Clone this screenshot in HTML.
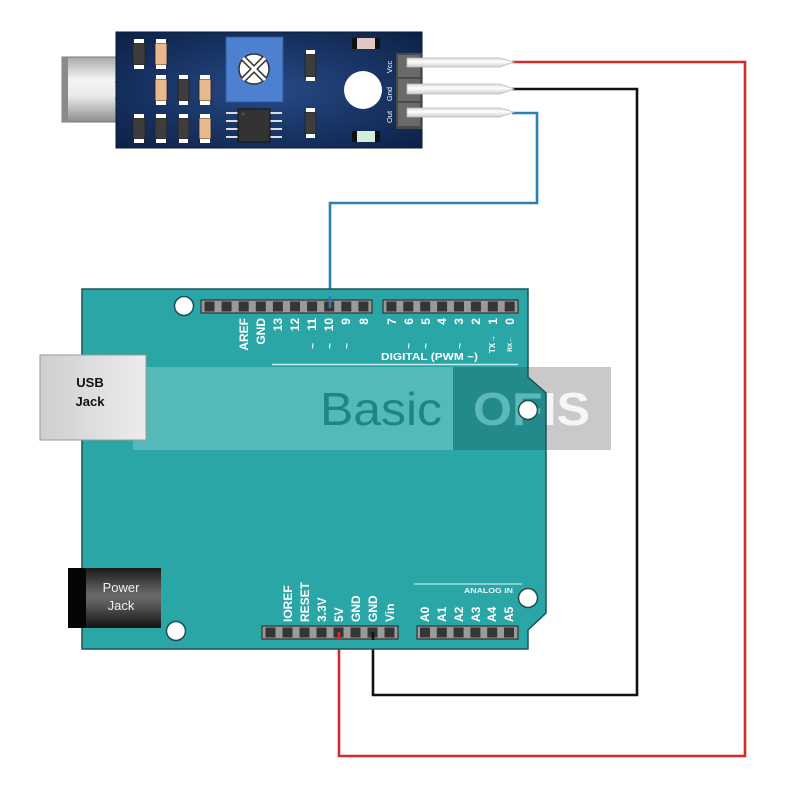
<!DOCTYPE html>
<html><head><meta charset="utf-8"><style>
html,body{margin:0;padding:0;background:#fff;}
svg{display:block;font-family:"Liberation Sans",Arial,sans-serif;}
.lb{fill:#fff;font-weight:bold;font-size:12px;}
</style></head><body>
<svg width="800" height="800" viewBox="0 0 800 800" xmlns="http://www.w3.org/2000/svg">
<defs>
<clipPath id="bc"><path d="M82,289 H528 V377 L546,393 V613 L528,630 V649 H82 Z"/></clipPath>
<clipPath id="nbc"><path d="M0,0 H800 V800 H0 Z M82,289 V649 H528 V630 L546,613 V393 L528,377 V289 Z" clip-rule="evenodd"/></clipPath>
<radialGradient id="nav" cx="0.5" cy="0.5" r="0.7">
<stop offset="0" stop-color="#274a86"/><stop offset="1" stop-color="#0c2147"/></radialGradient>
<linearGradient id="mic" x1="0" y1="0" x2="0" y2="1">
<stop offset="0" stop-color="#a9a9a9"/><stop offset="0.35" stop-color="#f4f4f4"/><stop offset="0.6" stop-color="#eaeaea"/><stop offset="1" stop-color="#8d8d8d"/></linearGradient>
<linearGradient id="pj" x1="0" y1="0" x2="0" y2="1">
<stop offset="0" stop-color="#1a1a1a"/><stop offset="0.45" stop-color="#6a6a6a"/><stop offset="0.6" stop-color="#5a5a5a"/><stop offset="1" stop-color="#111"/></linearGradient>
<linearGradient id="usb" x1="0" y1="0" x2="1" y2="0">
<stop offset="0" stop-color="#cfcfcf"/><stop offset="1" stop-color="#ececec"/></linearGradient>
<linearGradient id="pin" x1="0" y1="0" x2="0" y2="1">
<stop offset="0" stop-color="#d8d8d8"/><stop offset="0.4" stop-color="#ffffff"/><stop offset="1" stop-color="#cfcfcf"/></linearGradient>
</defs>

<!-- wires -->
<g fill="none" stroke-width="2.6" stroke-linejoin="miter">
<polyline points="512,62 745,62 745,756 339,756 339,634" stroke="#d42a2a"/>
<polyline points="512,89 637,89 637,695 373,695 373,634" stroke="#111"/>
<polyline points="512,113 537,113 537,203 330,203 330,306" stroke="#2a80b2"/>
</g>

<!-- sensor module -->
<rect x="62" y="57" width="55" height="65" fill="url(#mic)" stroke="#777" stroke-width="1"/>
<rect x="62" y="57" width="6" height="65" fill="#8a8a8a"/>
<line x1="115" y1="82" x2="128" y2="82" stroke="#aaa" stroke-width="2"/>
<line x1="115" y1="99" x2="128" y2="99" stroke="#aaa" stroke-width="2"/>
<rect x="116" y="32" width="306" height="116" fill="url(#nav)" stroke="#0a1a38" stroke-width="1"/>
<!-- pot -->
<rect x="226" y="37" width="57" height="65" fill="#4d80cf" stroke="#2b5aa0" stroke-width="1"/>
<circle cx="254" cy="69" r="15" fill="#fff" stroke="#333" stroke-width="1.5"/>
<g stroke="#333" stroke-width="6"><line x1="244" y1="59" x2="264" y2="79"/><line x1="264" y1="59" x2="244" y2="79"/></g>
<g stroke="#fff" stroke-width="3"><line x1="243" y1="58" x2="265" y2="80"/><line x1="265" y1="58" x2="243" y2="80"/></g>
<!-- chips -->
<g stroke="#222" stroke-width="0.8">
<rect x="133" y="43" width="12" height="22" fill="#3d3d3d"/>
<rect x="155" y="43" width="12" height="22" fill="#e8b98c"/>
<rect x="155" y="79" width="12" height="22" fill="#e8b98c"/>
<rect x="178" y="79" width="11" height="22" fill="#3d3d3d"/>
<rect x="199" y="79" width="12" height="22" fill="#e8b98c"/>
<rect x="133" y="118" width="12" height="21" fill="#3d3d3d"/>
<rect x="155" y="118" width="12" height="21" fill="#3d3d3d"/>
<rect x="178" y="118" width="11" height="21" fill="#3d3d3d"/>
<rect x="199" y="118" width="12" height="21" fill="#e8b98c"/>
<rect x="305" y="54" width="11" height="23" fill="#3d3d3d"/>
<rect x="305" y="112" width="11" height="22" fill="#3d3d3d"/>
</g>
<g fill="#fff">
<rect x="134" y="39" width="10" height="4"/><rect x="134" y="65" width="10" height="4"/>
<rect x="156" y="39" width="10" height="4"/><rect x="156" y="65" width="10" height="4"/>
<rect x="156" y="75" width="10" height="4"/><rect x="156" y="101" width="10" height="4"/>
<rect x="179" y="75" width="9" height="4"/><rect x="179" y="101" width="9" height="4"/>
<rect x="200" y="75" width="10" height="4"/><rect x="200" y="101" width="10" height="4"/>
<rect x="134" y="114" width="10" height="4"/><rect x="134" y="139" width="10" height="4"/>
<rect x="156" y="114" width="10" height="4"/><rect x="156" y="139" width="10" height="4"/>
<rect x="179" y="114" width="9" height="4"/><rect x="179" y="139" width="9" height="4"/>
<rect x="200" y="114" width="10" height="4"/><rect x="200" y="139" width="10" height="4"/>
<rect x="306" y="50" width="9" height="4"/><rect x="306" y="77" width="9" height="4"/>
<rect x="306" y="108" width="9" height="4"/><rect x="306" y="134" width="9" height="4"/>
</g>
<!-- IC -->
<g stroke="#ddd" stroke-width="2">
<line x1="226" y1="113" x2="238" y2="113"/><line x1="226" y1="121" x2="238" y2="121"/><line x1="226" y1="129" x2="238" y2="129"/><line x1="226" y1="137" x2="238" y2="137"/>
<line x1="270" y1="113" x2="282" y2="113"/><line x1="270" y1="121" x2="282" y2="121"/><line x1="270" y1="129" x2="282" y2="129"/><line x1="270" y1="137" x2="282" y2="137"/>
</g>
<rect x="238" y="109" width="32" height="33" fill="#333" stroke="#111"/>
<circle cx="243" cy="114" r="1.5" fill="#555"/>
<!-- LEDs -->
<rect x="352" y="38" width="28" height="11" fill="#111"/><rect x="357" y="38" width="18" height="11" fill="#e2c6c6"/>
<rect x="352" y="131" width="28" height="11" fill="#111"/><rect x="357" y="131" width="18" height="11" fill="#d3ecdc"/>
<circle cx="363" cy="90" r="19" fill="#fff"/>
<!-- header -->
<rect x="396" y="53" width="26" height="76" fill="#4a4a4a"/>
<rect x="398" y="55" width="22" height="22" fill="#6a6a6a"/>
<rect x="398" y="79" width="22" height="22" fill="#6a6a6a"/>
<rect x="398" y="103" width="22" height="23" fill="#6a6a6a"/>
<g fill="url(#pin)" stroke="#bbb" stroke-width="0.8">
<path d="M407,58 H500 L514,62 L500,67 H407 Z"/>
<path d="M407,84 H500 L514,89 L500,94 H407 Z"/>
<path d="M407,108 H500 L514,112 L500,117 H407 Z"/>
</g>
<g fill="#fff" font-size="7.5">
<text transform="translate(392,67) rotate(-90)" text-anchor="middle">Vcc</text>
<text transform="translate(392,94) rotate(-90)" text-anchor="middle">Gnd</text>
<text transform="translate(392,117) rotate(-90)" text-anchor="middle">Out</text>
</g>

<!-- Arduino board -->
<path d="M82,289 H528 V377 L546,393 V613 L528,630 V649 H82 Z" fill="#2aa6a7"/>
<!-- watermark -->
<rect x="453" y="367" width="158" height="83" fill="#c9c9c9"/>
<g clip-path="url(#bc)">
<rect x="453" y="367" width="158" height="83" fill="#24898b"/>
<rect x="133" y="367" width="320" height="83" fill="#55b9b9"/>
<text x="473" y="425" font-size="46" font-weight="bold" fill="#5cb9ba" textLength="117" lengthAdjust="spacingAndGlyphs">OFIS</text>
</g>
<g clip-path="url(#nbc)">
<text x="473" y="425" font-size="46" font-weight="bold" fill="#f6f6f6" textLength="117" lengthAdjust="spacingAndGlyphs">OFIS</text>
</g>
<text x="320" y="425" font-size="46" fill="#1f8486" textLength="122" lengthAdjust="spacingAndGlyphs">Basic</text>
<path d="M82,289 H528 V377 L546,393 V613 L528,630 V649 H82 Z" fill="none" stroke="#1c5455" stroke-width="1.5"/>

<!-- holes -->
<g fill="#fff" stroke="#1c4f50" stroke-width="1.5">
<circle cx="184" cy="306" r="9.5"/>
<circle cx="176" cy="631" r="9.5"/>
<circle cx="528" cy="410" r="9.5"/>
<circle cx="528" cy="598" r="9.5"/>
</g>

<!-- USB jack -->
<rect x="40" y="355" width="106" height="85" fill="url(#usb)" stroke="#9a9a9a" stroke-width="1"/>
<text x="90" y="387" font-size="13" font-weight="bold" fill="#111" text-anchor="middle">USB</text>
<text x="90" y="406" font-size="13" font-weight="bold" fill="#111" text-anchor="middle">Jack</text>

<!-- Power jack -->
<rect x="68" y="568" width="93" height="60" fill="url(#pj)"/>
<rect x="68" y="568" width="18" height="60" fill="#050505"/>
<text x="121" y="592" font-size="13" fill="#eee" text-anchor="middle">Power</text>
<text x="121" y="610" font-size="13" fill="#eee" text-anchor="middle">Jack</text>

<!-- headers top -->
<g>
<rect x="201" y="300" width="171" height="13" fill="#9a9a9a" stroke="#333" stroke-width="1.2"/>
<rect x="383" y="300" width="135" height="13" fill="#9a9a9a" stroke="#333" stroke-width="1.2"/>
<rect x="262" y="626" width="136" height="13" fill="#9a9a9a" stroke="#333" stroke-width="1.2"/>
<rect x="417" y="626" width="101" height="13" fill="#9a9a9a" stroke="#333" stroke-width="1.2"/>
</g>
<g fill="#353535">
<rect x="204.5" y="301.5" width="10" height="10"/><rect x="221.6" y="301.5" width="10" height="10"/><rect x="238.7" y="301.5" width="10" height="10"/><rect x="255.8" y="301.5" width="10" height="10"/><rect x="272.9" y="301.5" width="10" height="10"/><rect x="290" y="301.5" width="10" height="10"/><rect x="307.1" y="301.5" width="10" height="10"/><rect x="324.2" y="301.5" width="10" height="10"/><rect x="341.3" y="301.5" width="10" height="10"/><rect x="358.4" y="301.5" width="10" height="10"/>
<rect x="386.4" y="301.5" width="10" height="10"/><rect x="403.3" y="301.5" width="10" height="10"/><rect x="420.2" y="301.5" width="10" height="10"/><rect x="437.1" y="301.5" width="10" height="10"/><rect x="454" y="301.5" width="10" height="10"/><rect x="470.9" y="301.5" width="10" height="10"/><rect x="487.8" y="301.5" width="10" height="10"/><rect x="504.7" y="301.5" width="10" height="10"/>
<rect x="265.5" y="627.5" width="10" height="10"/><rect x="282.5" y="627.5" width="10" height="10"/><rect x="299.5" y="627.5" width="10" height="10"/><rect x="316.5" y="627.5" width="10" height="10"/><rect x="333.5" y="627.5" width="10" height="10"/><rect x="350.5" y="627.5" width="10" height="10"/><rect x="367.5" y="627.5" width="10" height="10"/><rect x="384.5" y="627.5" width="10" height="10"/>
<rect x="420" y="627.5" width="10" height="10"/><rect x="436.8" y="627.5" width="10" height="10"/><rect x="453.6" y="627.5" width="10" height="10"/><rect x="470.4" y="627.5" width="10" height="10"/><rect x="487.2" y="627.5" width="10" height="10"/><rect x="504" y="627.5" width="10" height="10"/>
</g>
<!-- wire ends on pins -->
<line x1="330" y1="296" x2="330" y2="308" stroke="#2a80b2" stroke-width="2.6"/>
<line x1="339" y1="632" x2="339" y2="640" stroke="#d42a2a" stroke-width="2.6"/>
<line x1="373" y1="632" x2="373" y2="640" stroke="#111" stroke-width="2.6"/>

<!-- top labels -->
<g class="lb">
<text transform="translate(248,318) rotate(-90)" text-anchor="end">AREF</text>
<text transform="translate(265,318) rotate(-90)" text-anchor="end">GND</text>
<text transform="translate(282,318) rotate(-90)" text-anchor="end">13</text>
<text transform="translate(299,318) rotate(-90)" text-anchor="end">12</text>
<text transform="translate(316,318) rotate(-90)" text-anchor="end">11</text>
<text transform="translate(333,318) rotate(-90)" text-anchor="end">10</text>
<text transform="translate(350,318) rotate(-90)" text-anchor="end">9</text>
<text transform="translate(368,318) rotate(-90)" text-anchor="end">8</text>
<text transform="translate(396,318) rotate(-90)" text-anchor="end">7</text>
<text transform="translate(413,318) rotate(-90)" text-anchor="end">6</text>
<text transform="translate(430,318) rotate(-90)" text-anchor="end">5</text>
<text transform="translate(446,318) rotate(-90)" text-anchor="end">4</text>
<text transform="translate(463,318) rotate(-90)" text-anchor="end">3</text>
<text transform="translate(480,318) rotate(-90)" text-anchor="end">2</text>
<text transform="translate(497,318) rotate(-90)" text-anchor="end">1</text>
<text transform="translate(514,318) rotate(-90)" text-anchor="end">0</text>
</g>
<g fill="#fff" font-weight="bold" font-size="10">
<text transform="translate(316,346) rotate(-90)" text-anchor="middle">~</text>
<text transform="translate(333,346) rotate(-90)" text-anchor="middle">~</text>
<text transform="translate(350,346) rotate(-90)" text-anchor="middle">~</text>
<text transform="translate(412,346) rotate(-90)" text-anchor="middle">~</text>
<text transform="translate(429,346) rotate(-90)" text-anchor="middle">~</text>
<text transform="translate(463,346) rotate(-90)" text-anchor="middle">~</text>
<text transform="translate(495,344) rotate(-90)" text-anchor="middle" font-size="8">TX→</text>
<text transform="translate(512,344) rotate(-90)" text-anchor="middle" font-size="6.5">RX←</text>
</g>
<text x="381" y="360" font-size="10.5" font-weight="bold" fill="#fff" textLength="97" lengthAdjust="spacingAndGlyphs">DIGITAL  (PWM ~)</text>
<line x1="272" y1="364.5" x2="518" y2="364.5" stroke="#c5eaea" stroke-width="1.5"/>

<!-- bottom labels -->
<line x1="414" y1="584" x2="522" y2="584" stroke="#c5eaea" stroke-width="1.3"/>
<text x="464" y="593" font-size="7.5" font-weight="bold" fill="#e8f6f6" textLength="49" lengthAdjust="spacingAndGlyphs">ANALOG IN</text>
<g class="lb">
<text transform="translate(292,622) rotate(-90)">IOREF</text>
<text transform="translate(309,622) rotate(-90)">RESET</text>
<text transform="translate(326,622) rotate(-90)">3.3V</text>
<text transform="translate(343,622) rotate(-90)">5V</text>
<text transform="translate(360,622) rotate(-90)">GND</text>
<text transform="translate(377,622) rotate(-90)">GND</text>
<text transform="translate(394,622) rotate(-90)">Vin</text>
<text transform="translate(429,622) rotate(-90)">A0</text>
<text transform="translate(446,622) rotate(-90)">A1</text>
<text transform="translate(463,622) rotate(-90)">A2</text>
<text transform="translate(480,622) rotate(-90)">A3</text>
<text transform="translate(496,622) rotate(-90)">A4</text>
<text transform="translate(513,622) rotate(-90)">A5</text>
</g>
</svg>
</body></html>
